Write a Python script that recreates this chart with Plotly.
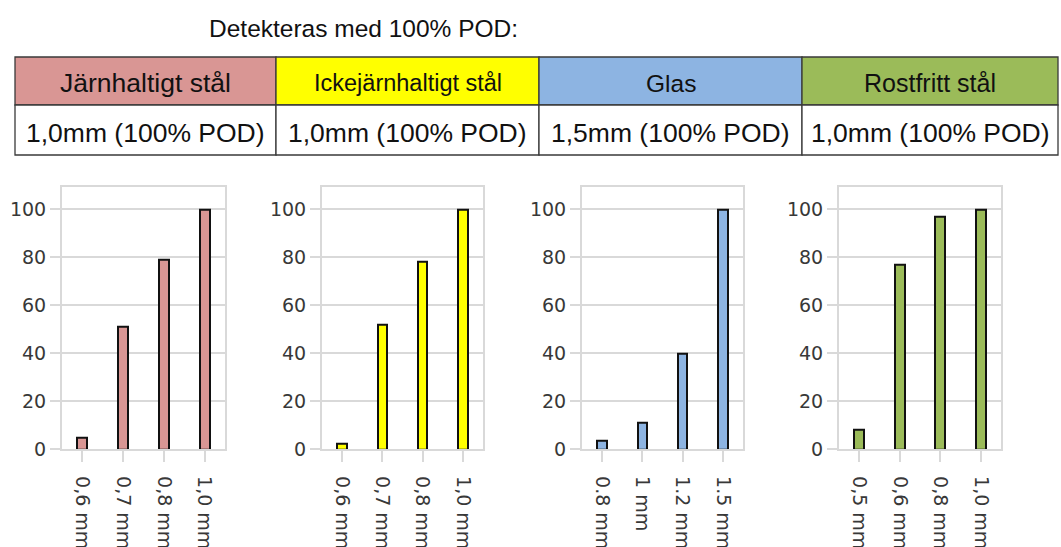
import plotly.graph_objects as go

W, H = 1061, 547

# ---------------- data ----------------
title_text = "Detekteras med 100% POD:"
materials = ["Järnhaltigt stål", "Ickejärnhaltigt stål", "Glas", "Rostfritt stål"]
detection = ["1,0mm (100% POD)", "1,0mm (100% POD)", "1,5mm (100% POD)", "1,0mm (100% POD)"]
colors = ["#D99694", "#FFFF00", "#8DB4E2", "#9BBB59"]

cats_jarn = ["0,6 mm", "0,7 mm", "0,8 mm", "1,0 mm"]
vals_jarn = [5, 51, 79, 100]
cats_ickejarn = ["0,6 mm", "0,7 mm", "0,8 mm", "1,0 mm"]
vals_ickejarn = [2.5, 52, 78, 100]
cats_glas = ["0.8 mm", "1 mm", "1.2 mm", "1.5 mm"]
vals_glas = [3.5, 11, 40, 100]
cats_rostfritt = ["0,5 mm", "0,6 mm", "0,8 mm", "1,0 mm"]
vals_rostfritt = [8, 77, 97, 100]

y_ticks = [0, 20, 40, 60, 80, 100]

series = [
    (cats_jarn, vals_jarn),
    (cats_ickejarn, vals_ickejarn),
    (cats_glas, vals_glas),
    (cats_rostfritt, vals_rostfritt),
]

# ---------------- layout helpers ----------------
def px(x):
    return x / W

def py(y):
    return 1 - y / H

plot_x = [(62, 225), (322, 483), (582, 743), (839, 1001)]
plot_top, plot_bottom = 186.7, 449.3
col_edges = [15, 276, 539, 802, 1058]
row_edges = [57, 105, 155]

GRID = "#d9d9d9"
TXT = "#383838"

fig = go.Figure()
layout = dict(
    width=W, height=H, autosize=False,
    margin=dict(l=0, r=0, t=0, b=0, autoexpand=False),
    paper_bgcolor="white", plot_bgcolor="white",
    showlegend=False,
    bargap=0,
)

for i, ((cats, vals), col, (x0, x1)) in enumerate(zip(series, colors, plot_x)):
    n = "" if i == 0 else str(i + 1)
    fig.add_trace(go.Bar(
        x=cats, y=vals, width=0.24,
        marker=dict(color=col, line=dict(color="#111111", width=2)),
        xaxis="x" + n, yaxis="y" + n, hoverinfo="x+y",
    ))
    layout["xaxis" + n] = dict(
        domain=[px(x0), px(x1)], anchor="y" + n, type="category",
        range=[-0.5, 3.5], showgrid=False, zeroline=False, automargin=False,
        showline=True, mirror=True, linecolor=GRID, linewidth=2,
        ticks="outside", ticklen=11, tickwidth=2, tickcolor=GRID,
        ticklabelstandoff=10,
        tickangle=90, tickfont=dict(family="DejaVu Sans", size=19, color=TXT),
        fixedrange=True,
    )
    layout["yaxis" + n] = dict(
        domain=[py(plot_bottom), py(plot_top)], anchor="x" + n,
        range=[0, 109.4], tickvals=y_ticks, automargin=False,
        showgrid=True, gridcolor=GRID, gridwidth=2, zeroline=False,
        showline=True, mirror=True, linecolor=GRID, linewidth=2,
        ticks="outside", ticklen=10, tickwidth=2, tickcolor=GRID,
        tickfont=dict(family="DejaVu Sans", size=19, color=TXT),
        fixedrange=True,
    )

shapes = []
annotations = []

# title
annotations.append(dict(
    text=title_text, x=px(363), y=py(28), xref="paper", yref="paper",
    xanchor="center", yanchor="middle", showarrow=False,
    font=dict(family="Liberation Sans", size=24.5, color="#111111"),
))

# table
BORDER = "#3a3a3a"
header_sizes = [26.5, 23.5, 24.5, 25]
for j in range(4):
    xa, xb = col_edges[j], col_edges[j + 1]
    shapes.append(dict(type="rect", xref="paper", yref="paper",
                       x0=px(xa), x1=px(xb), y0=py(row_edges[1]), y1=py(row_edges[0]),
                       fillcolor=colors[j], line=dict(color=BORDER, width=1.3), layer="below"))
    shapes.append(dict(type="rect", xref="paper", yref="paper",
                       x0=px(xa), x1=px(xb), y0=py(row_edges[2]), y1=py(row_edges[1]),
                       fillcolor="white", line=dict(color=BORDER, width=1.3), layer="below"))
    annotations.append(dict(
        text=materials[j], x=px((xa + xb) / 2), y=py(83), xref="paper", yref="paper",
        xanchor="center", yanchor="middle", showarrow=False,
        font=dict(family="Liberation Sans", size=header_sizes[j], color="#111111"),
    ))
    annotations.append(dict(
        text=detection[j], x=px((xa + xb) / 2), y=py(133), xref="paper", yref="paper",
        xanchor="center", yanchor="middle", showarrow=False,
        font=dict(family="Liberation Sans", size=26.5, color="#111111"),
    ))

layout["shapes"] = shapes
layout["annotations"] = annotations
fig.update_layout(**layout)

fig.write_html("out.html",
               config={"displayModeBar": False},
               post_script="document.body.style.margin='0';document.body.style.overflow='hidden';")
